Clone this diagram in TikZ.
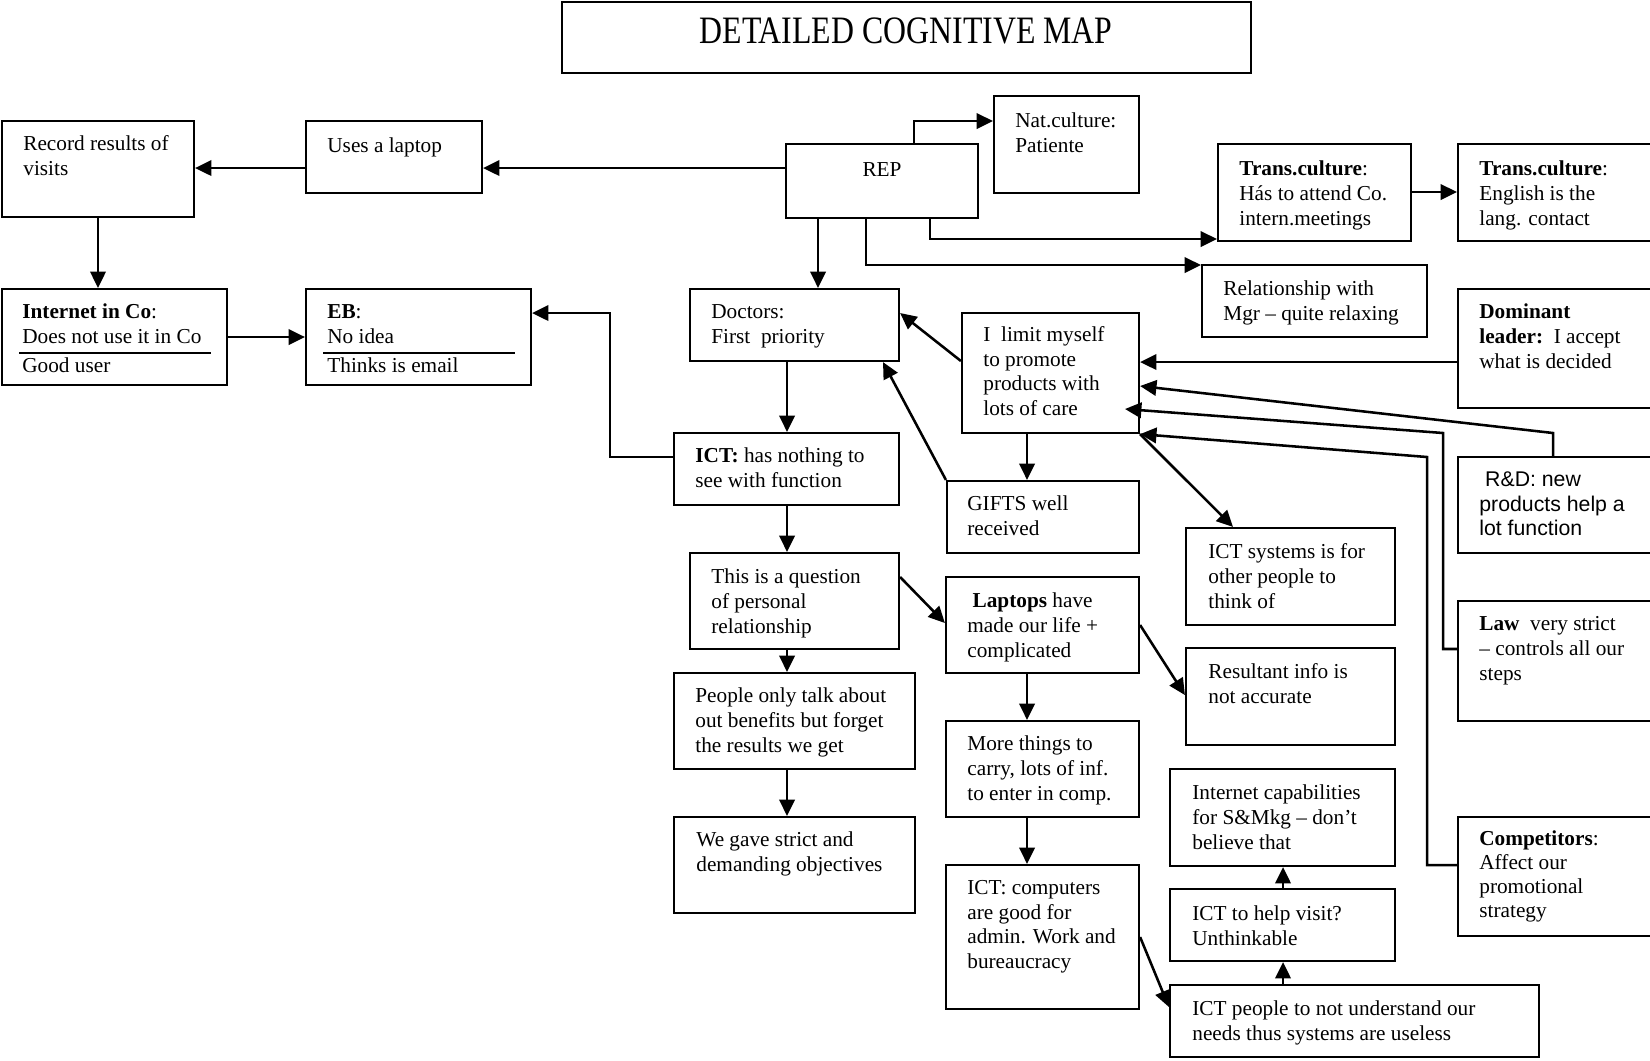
\documentclass[tikz,border=0pt]{standalone}
\usepackage{fontspec}
\usepackage{graphicx}
\setmainfont{Liberation Serif}
\newfontfamily\arialfont{Liberation Sans}
\usetikzlibrary{fit,arrows.meta}
\newcommand\bodyfont{\fontsize{11.7}{13.75}\selectfont}
\begin{document}
\begin{tikzpicture}[x=0.55pt,y=-0.55pt,
  box/.style={draw, line width=1.2pt, inner sep=0pt},
  txt/.style={anchor=north west, inner sep=0pt, align=left, font=\bodyfont, yshift=9.625pt},
  arr/.style={line width=1.4pt, -{Triangle[length=9pt,width=8.5pt]}},
  sep/.style={line width=1.2pt}]
\useasboundingbox (0,0) rectangle (1650,1060);
% title
\node[box, fit={(562,2)(1251,73)}] (title) {};
\node[anchor=base, inner sep=0pt] (titlet) at (906,43) {\scalebox{1}[1.22]{\fontsize{17.5}{20}\selectfont DETAILED COGNITIVE MAP}};
% boxes
\node[box, fit={(2,121)(194,217)}] (rec) {};
\node[box, fit={(306,121)(482,193)}] (lap) {};
\node[box, fit={(786,144)(978,218)}] (rep) {};
\node[box, fit={(994,96)(1139,193)}] (nat) {};
\node[box, fit={(1218,144)(1411,241)}] (tr1) {};
\node[box, fit={(1458,144)(1665,241)}] (tr2) {};
\node[box, fit={(1202,265)(1427,337)}] (rel) {};
\node[box, fit={(1458,289)(1665,408)}] (dom) {};
\node[box, fit={(2,289)(227,385)}] (inet) {};
\node[box, fit={(306,289)(531,385)}] (eb) {};
\node[box, fit={(690,289)(899,361)}] (doc) {};
\node[box, fit={(962,313)(1139,433)}] (lim) {};
\node[box, fit={(674,433)(899,505)}] (ictn) {};
\node[box, fit={(947,481)(1139,553)}] (gift) {};
\node[box, fit={(1458,457)(1665,553)}] (rnd) {};
\node[box, fit={(1186,528)(1395,625)}] (icts) {};
\node[box, fit={(690,553)(899,649)}] (ques) {};
\node[box, fit={(946,577)(1139,673)}] (ltop) {};
\node[box, fit={(1458,601)(1665,721)}] (law) {};
\node[box, fit={(1186,648)(1395,745)}] (res) {};
\node[box, fit={(674,673)(915,769)}] (ppl) {};
\node[box, fit={(946,721)(1139,817)}] (more) {};
\node[box, fit={(1170,769)(1395,866)}] (icap) {};
\node[box, fit={(674,817)(915,913)}] (gave) {};
\node[box, fit={(1458,817)(1665,936)}] (comp) {};
\node[box, fit={(946,865)(1139,1009)}] (icomp) {};
\node[box, fit={(1170,889)(1395,961)}] (help) {};
\node[box, fit={(1170,985)(1539,1057)}] (iped) {};
% separators
\draw[sep] (19,353) -- (211,353);
\draw[sep] (323,353) -- (515,353);
% texts
\node[txt] (rect) at (23,150) {\strut Record results of\\visits};
\node[txt] (lapt) at (327,152) {\strut Uses a laptop};
\node[anchor=base, inner sep=0pt, font=\bodyfont] (rept) at (882,176) {REP};
\node[txt] (natt) at (1015,127) {\strut Nat.culture:\\Patiente};
\node[txt] (tr1t) at (1239,175) {\strut\textbf{Trans.culture}:\\Hás to attend Co.\\intern.meetings};
\node[txt] (tr2t) at (1479,175) {\strut\textbf{Trans.culture}:\\English is the\\lang. contact};
\node[txt] (relt) at (1223,295) {\strut Relationship with\\Mgr – quite relaxing};
\node[txt] (domt) at (1479,318) {\strut\textbf{Dominant}\\\textbf{leader:}\ \ I accept\\what is decided};
\node[txt] (inett) at (22,318) {\strut\textbf{Internet in Co}:\\Does not use it in Co};
\node[txt] (inetu) at (22,372) {\strut Good user};
\node[txt] (ebt) at (327,318) {\strut\textbf{EB}:\\No idea};
\node[txt] (ebu) at (327,372) {\strut Thinks is email};
\node[txt] (doct) at (711,318) {\strut Doctors:\\First\ \ priority};
\node[txt, font=\fontsize{11.7}{13.4}\selectfont] (limt) at (983,342) {\strut I\ \ limit myself\\to promote\\products with\\lots of care};
\node[txt] (ictnt) at (695,462) {\strut\textbf{ICT:} has nothing to\\see with function};
\node[txt] (giftt) at (967,510) {\strut GIFTS well\\received};
\node[txt, font=\arialfont\fontsize{11.7}{13.4}\selectfont] (rndt) at (1479,487) {\strut\kern3.2pt R\&D: new\\products help a\\lot function};
\node[txt] (ictst) at (1208,558) {\strut ICT systems is for\\other people to\\think of};
\node[txt] (quest) at (711,583) {\strut This is a question\\of personal\\relationship};
\node[txt] (ltopt) at (967,607) {\strut\kern2.9pt\textbf{Laptops} have\\made our life +\\complicated};
\node[txt] (lawt) at (1479,630) {\strut\textbf{Law}\ \ very strict\\– controls all our\\steps};
\node[txt] (rest) at (1208,678) {\strut Resultant info is\\not accurate};
\node[txt] (pplt) at (695,702) {\strut People only talk about\\out benefits but forget\\the results we get};
\node[txt] (moret) at (967,750) {\strut More things to\\carry, lots of inf.\\to enter in comp.};
\node[txt] (icapt) at (1192,799) {\strut Internet capabilities\\for S\&Mkg – don’t\\believe that};
\node[txt] (gavet) at (696,846) {\strut We gave strict and\\demanding objectives};
\node[txt, font=\fontsize{11.7}{13.2}\selectfont] (compt) at (1479,846) {\strut\textbf{Competitors}:\\Affect our\\promotional\\strategy};
\node[txt, font=\fontsize{11.7}{13.4}\selectfont] (icompt) at (967,895) {\strut ICT: computers\\are good for\\admin. Work and\\bureaucracy};
\node[txt] (helpt) at (1192,920) {\strut ICT to help visit?\\Unthinkable};
\node[txt] (ipedt) at (1192,1015) {\strut ICT people to not understand our\\needs thus systems are useless};
% connectors
\coordinate (limin) at (1125,409);
\draw[arr] (rep.west |- 0,168) -- (lap.east |- 0,168);
\draw[arr] (lap.west |- 0,168) -- (rec.east |- 0,168);
\draw[arr] (98,0 |- rec.south) -- (98,0 |- inet.north);
\draw[arr] (inet.east |- 0,337) -- (eb.west |- 0,337);
\draw[arr] (ictn.west |- 0,457) -| (610,313) -- (eb.east |- 0,313);
\draw[arr] (818,0 |- rep.south) -- (818,0 |- doc.north);
\draw[arr] (914,0 |- rep.north) |- (nat.west |- 0,121);
\draw[arr] (930,0 |- rep.south) |- (tr1.west |- 0,239);
\draw[arr] (866,0 |- rep.south) |- (rel.west |- 0,265);
\draw[arr] (tr1.east |- 0,192) -- (tr2.west |- 0,192);
\draw[arr] (lim.west |- 0,361) -- (doc.east |- 0,313);
\draw[arr] (gift.north west) -- (883,0 |- doc.south);
\draw[arr] (787,0 |- doc.south) -- (787,0 |- ictn.north);
\draw[arr] (1027,0 |- lim.south) -- (1027,0 |- gift.north);
\draw[arr] (lim.south east) -- (1233,0 |- icts.north);
\draw[arr] (dom.west |- 0,362) -- (lim.east |- 0,362);
\draw[arr] (1553,0 |- rnd.north) -- (1553,433) -- (lim.east |- 0,386);
\draw[arr] (law.west |- 0,649) -| (1443,433) -- (limin);
\draw[arr] (comp.west |- 0,865) -| (1427,457) -- (lim.south east);
\draw[arr] (787,0 |- ictn.south) -- (787,0 |- ques.north);
\draw[arr] (787,0 |- ques.south) -- (787,0 |- ppl.north);
\draw[arr] (787,0 |- ppl.south) -- (787,0 |- gave.north);
\draw[arr] (ques.east |- 0,577) -- (ltop.west |- 0,623);
\draw[arr] (1027,0 |- ltop.south) -- (1027,0 |- more.north);
\draw[arr] (1027,0 |- more.south) -- (1027,0 |- icomp.north);
\draw[arr] (ltop.east |- 0,625) -- (res.west |- 0,695);
\draw[arr] (icomp.east |- 0,937) -- (iped.west |- 0,1007);
\draw[arr] (1283,0 |- iped.north) -- (1283,0 |- help.south);
\draw[arr] (1283,0 |- help.north) -- (1283,0 |- icap.south);
\end{tikzpicture}
\end{document}
